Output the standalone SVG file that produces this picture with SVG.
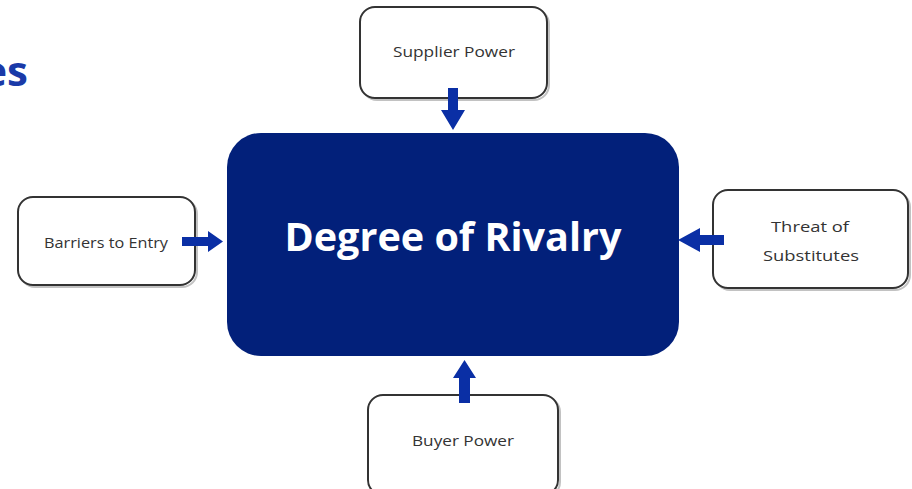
<svg xmlns="http://www.w3.org/2000/svg" width="912" height="489" viewBox="0 0 912 489">
<style>
.box{fill:#ffffff;stroke:#333333;stroke-width:2}
.shadow{fill:none;stroke:#9a9a9a;stroke-width:2;opacity:0.6}
.lbl{font-family:"Open Sans","Liberation Sans",sans-serif;font-size:15px;fill:#333333;text-anchor:middle}
.arrow{fill:#0A2FA5}
</style>
<rect width="912" height="489" fill="#ffffff"/>
<text x="28" y="86" font-family="Open Sans, Liberation Sans, sans-serif" font-weight="bold" font-size="42" fill="#1A3AA8" text-anchor="end">es</text>
<g id="rivalry">
<rect x="227" y="133" width="452" height="223" rx="34" fill="#02207A"/>
<text x="453" y="251" font-family="Open Sans, Liberation Sans, sans-serif" font-weight="bold" font-size="40" fill="#ffffff" text-anchor="middle" textLength="337" lengthAdjust="spacingAndGlyphs">Degree of Rivalry</text>
</g>
<g id="supplier">
<rect class="shadow" x="362" y="9" width="187" height="91" rx="15"/>
<rect class="box" x="360" y="7" width="187" height="91" rx="15"/>
<text class="lbl" x="454" y="57" textLength="122" lengthAdjust="spacingAndGlyphs">Supplier Power</text>
</g>
<g id="barriers">
<rect class="shadow" x="20" y="199" width="177" height="88" rx="15"/>
<rect class="box" x="18" y="197" width="177" height="88" rx="15"/>
<text class="lbl" x="106" y="248" textLength="124" lengthAdjust="spacingAndGlyphs">Barriers to Entry</text>
</g>
<g id="substitutes">
<rect class="shadow" x="715" y="192" width="195" height="98" rx="15"/>
<rect class="box" x="713" y="190" width="195" height="98" rx="15"/>
<text class="lbl" x="810" y="232" textLength="78" lengthAdjust="spacingAndGlyphs">Threat of</text>
<text class="lbl" x="811" y="261" textLength="96" lengthAdjust="spacingAndGlyphs">Substitutes</text>
</g>
<g id="buyer">
<rect class="shadow" x="370" y="397" width="190" height="100" rx="15"/>
<rect class="box" x="368" y="395" width="190" height="100" rx="15"/>
<text class="lbl" x="463" y="446" textLength="102" lengthAdjust="spacingAndGlyphs">Buyer Power</text>
</g>
<g id="connectors">
<polygon class="arrow" points="448,88 458,88 458,110 465,110 453,130 441,110 448,110"/>
<polygon class="arrow" points="182,237 208,237 208,231 223,241.5 208,252 208,246 182,246"/>
<polygon class="arrow" points="724,235 700,235 700,228 678,240 700,252 700,245 724,245"/>
<polygon class="arrow" points="459,403 470,403 470,378 476,378 464.5,360 453,378 459,378"/>
</g>
</svg>
